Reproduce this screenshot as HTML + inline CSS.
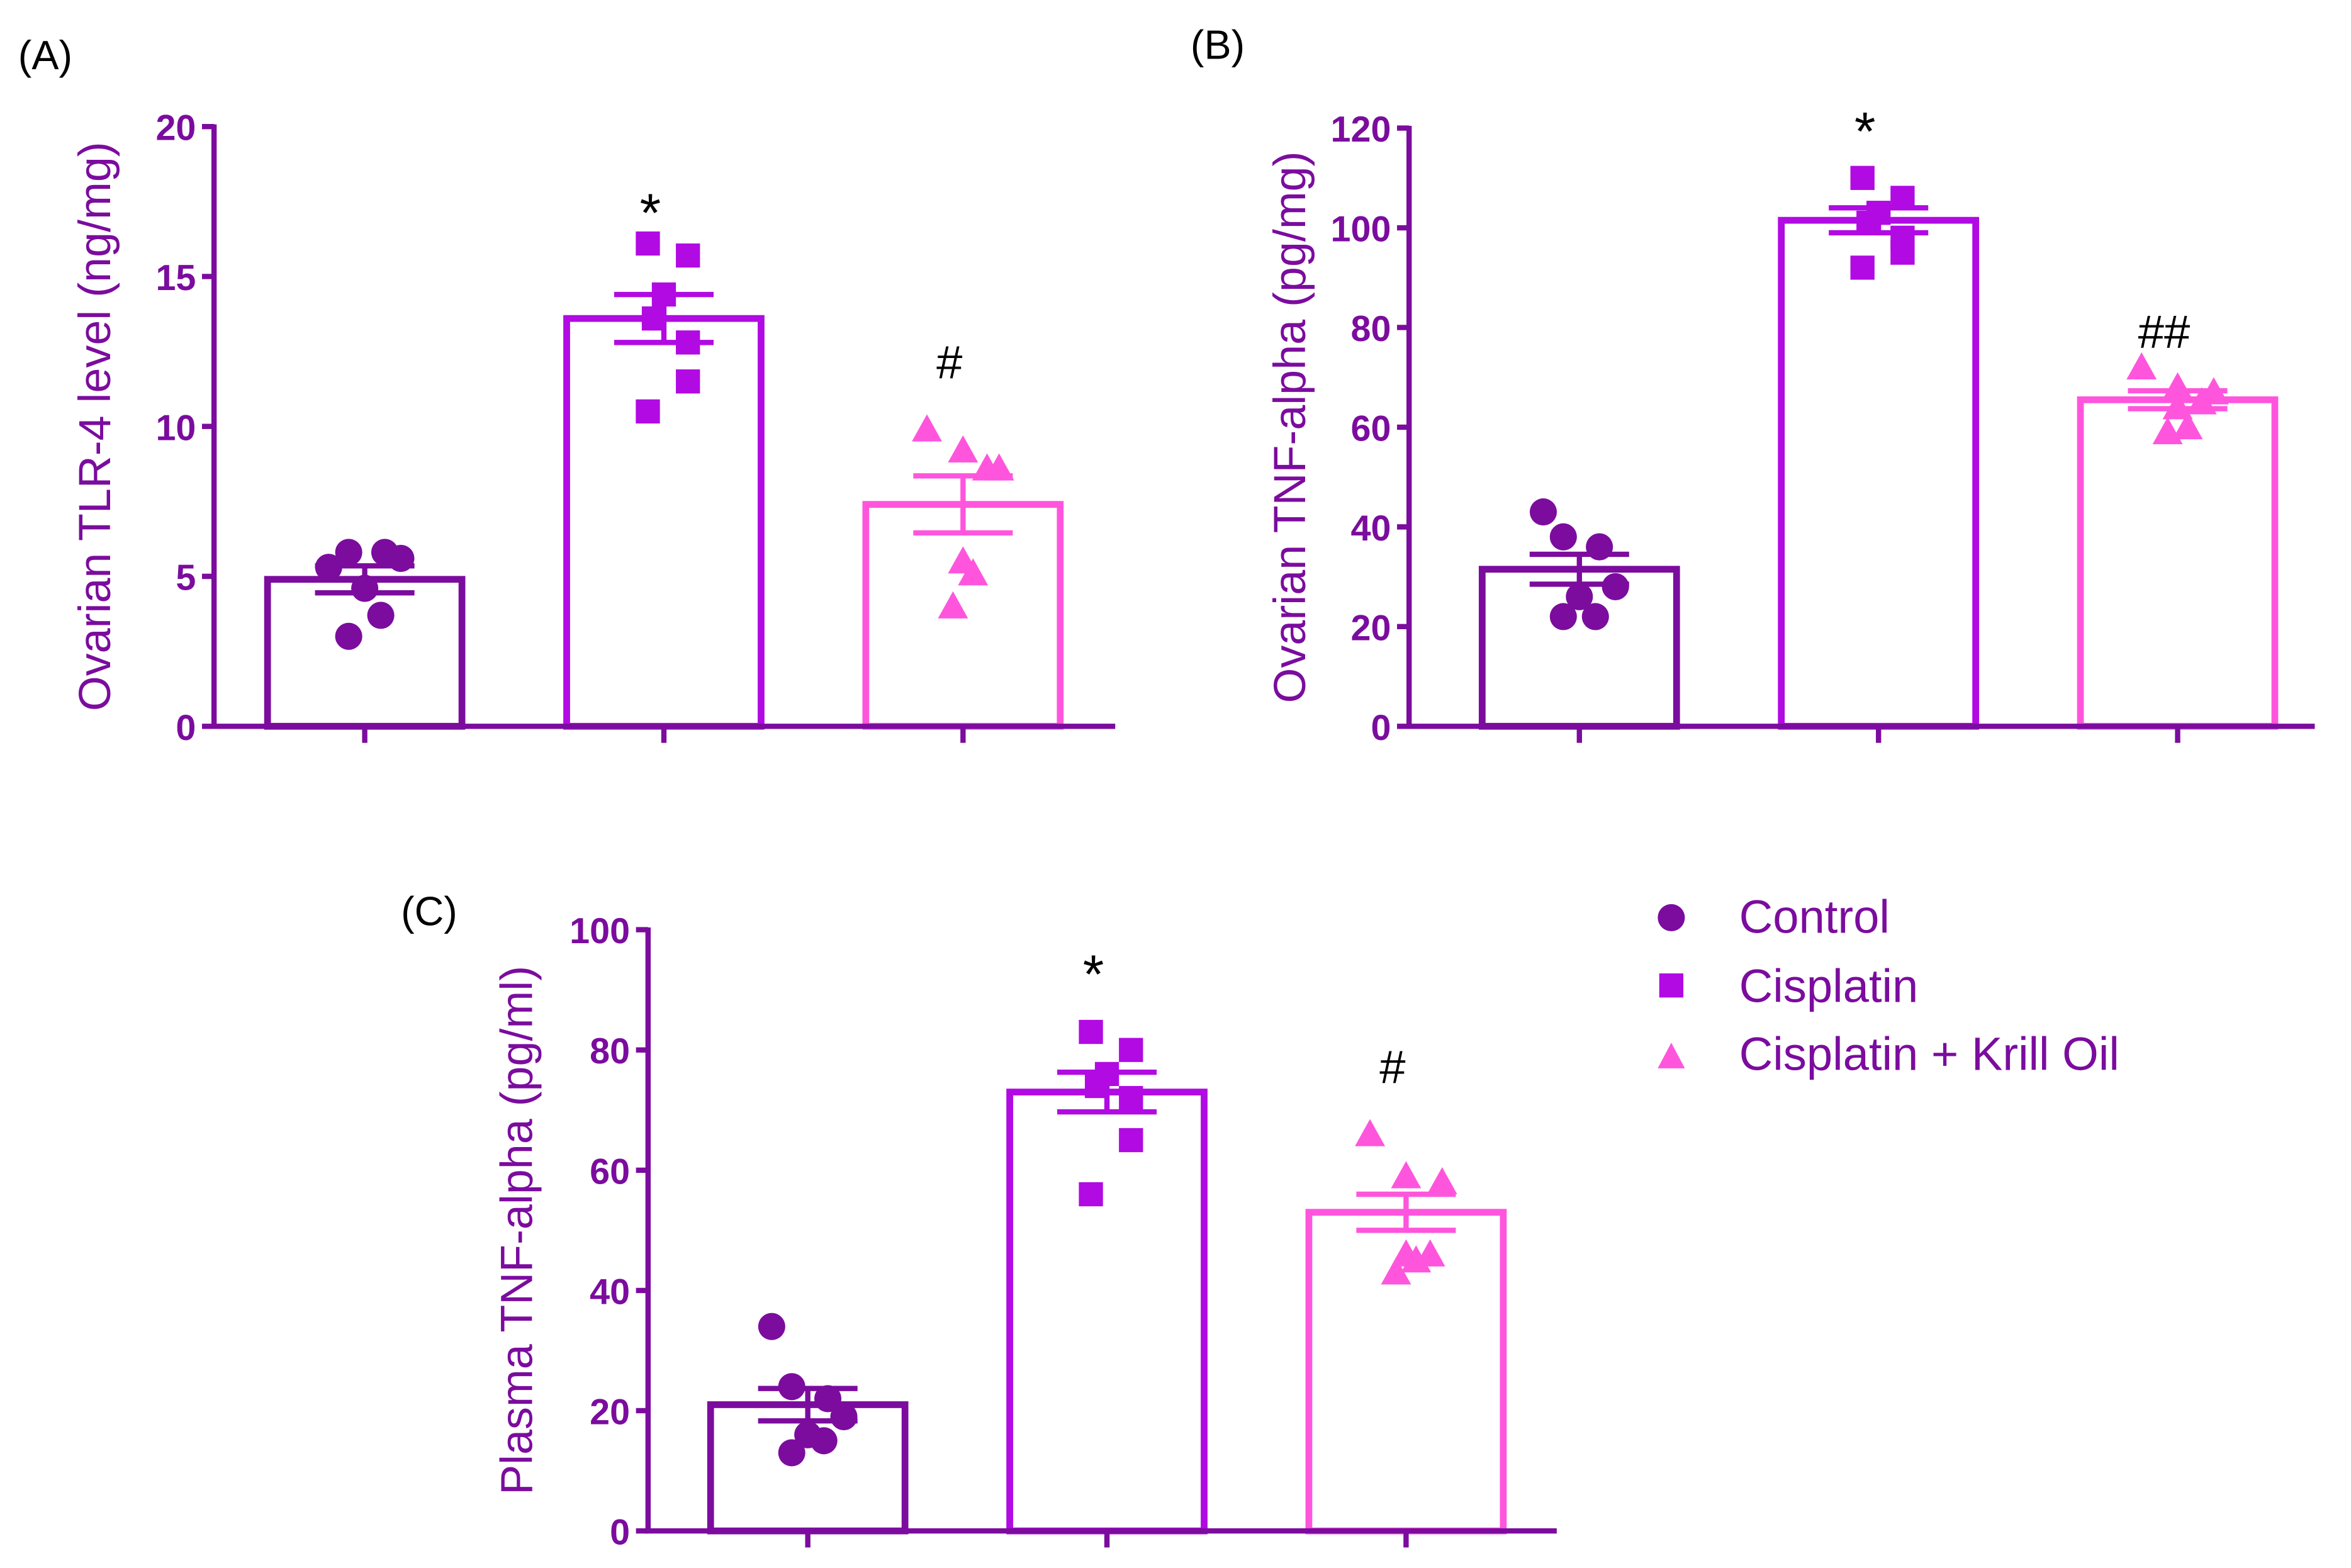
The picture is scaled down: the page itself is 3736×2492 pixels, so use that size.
<!DOCTYPE html>
<html><head><meta charset="utf-8"><style>
html,body{margin:0;padding:0;background:#fff;}
svg{display:block;}
text{font-family:"Liberation Sans",sans-serif;}
</style></head><body>
<svg id="fig" xmlns="http://www.w3.org/2000/svg" width="3736" height="2492" viewBox="0 0 1560 1040.6">
<rect width="1560" height="1040.6" fill="#fff"/>
<text x="12" y="46" font-size="27" fill="#000">(A)</text>
<text x="790" y="39" font-size="27" fill="#000">(B)</text>
<text x="266" y="614" font-size="27" fill="#000">(C)</text>
<g id="legend">
 <g><circle cx="1109" cy="609" r="9" fill="#7B0C9E"/><text x="1154" y="619" font-size="31" fill="#7B0C9E">Control</text></g>
 <g><rect x="1101" y="646" width="16" height="16" fill="#B10AE3"/><text x="1154" y="665" font-size="31" fill="#7B0C9E">Cisplatin</text></g>
 <g><polygon points="1109,692 1118,709 1100,709" fill="#FF55DD"/><text x="1154" y="710" font-size="31" fill="#7B0C9E">Cisplatin + Krill Oil</text></g>
</g>
</svg>
<script>
// Panel A data
const aCategories = ["Control","Cisplatin","Cisplatin + Krill Oil"];
const aMeans = [4.9, 13.6, 7.4];
const aSem = [0.45, 0.8, 0.95];
const aControl = [5.3, 5.8, 5.8, 5.6, 4.6, 3.7, 3.0];
const aCisplatin = [16.1, 15.7, 14.4, 13.6, 12.8, 11.5, 10.5];
const aKrill = [9.9, 9.2, 8.6, 8.6, 5.5, 5.1, 4.0];
const aTicks = [0, 5, 10, 15, 20];
const aMarks = ["", "*", "#"];
const aMarkVals = [0, 17.4, 12.2];
// Panel B data
const bMeans = [31.5, 101.5, 65.5];
const bSem = [3, 2.5, 1.8];
const bControl = [43, 38, 36, 28, 26, 22, 22];
const bCisplatin = [110, 106, 103, 101, 98, 95, 92];
const bKrill = [72, 68, 67, 65, 64, 60, 59];
const bTicks = [0, 20, 40, 60, 80, 100, 120];
const bMarks = ["", "*", "##"];
const bMarkVals = [0, 121, 79.5];
// Panel C data
const cMeans = [21, 73, 53];
const cSem = [2.7, 3.3, 3];
const cControl = [34, 24, 22, 19, 16, 15, 13];
const cCisplatin = [83, 80, 76, 74, 72, 65, 56];
const cKrill = [66, 59, 58, 46, 46, 45, 43];
const cTicks = [0, 20, 40, 60, 80, 100];
const cMarks = ["", "*", "#"];
const cMarkVals = [0, 94, 77.5];

const NS = "http://www.w3.org/2000/svg";
const svg = document.getElementById("fig");
const colors = ["#7B0C9E", "#B10AE3", "#FF55DD"];
const axisColor = "#7B0C9E";
const jitter = [[-0.18,-0.08,0.1,0.18,0,0.08,-0.08],[-0.08,0.12,0,-0.05,0.12,0.12,-0.08],[-0.18,0,0.18,0.12,0,0.05,-0.05]];

function mk(tag, attrs, parent){const e=document.createElementNS(NS,tag);for(const k in attrs)e.setAttribute(k,attrs[k]);parent.appendChild(e);return e;}

function panel(p){
  const g = mk("g",{},svg);
  
  
  const y = v => p.y0 - (v - 0) / p.ymax * (p.y0 - p.ytop);
  const bw = 133, step = 198.5;
  const cx = i => p.firstX + i*step;
  const groups = [p.ctrl, p.cis, p.kr];
  p.means.forEach((m,i)=>{
    const r = mk("rect",{x:cx(i)-bw/2+2,y:y(m),width:bw-4,height:p.y0-y(m),fill:"none",stroke:colors[i],"stroke-width":4.5},g);
    
    
  });
  groups.forEach((arr,i)=>{
    arr.forEach((v,j)=>{
      const x = cx(i) + jitter[i][j]*bw, yy = y(v);
      let e;
      if(i===0) e = mk("circle",{cx:x,cy:yy,r:9,fill:colors[0]},g);
      else if(i===1) e = mk("rect",{x:x-8,y:yy-8,width:16,height:16,fill:colors[1]},g);
      else e = mk("polygon",{points:`${x},${yy-10} ${x+10},${yy+8} ${x-10},${yy+8}`,fill:colors[2]},g);
      
      
    });
  });
  p.means.forEach((m,i)=>{
    const eg = mk("g",{stroke:colors[i],"stroke-width":3.5},g);
    
    
    mk("line",{x1:cx(i),x2:cx(i),y1:y(m+p.sem[i]),y2:y(m-p.sem[i])},eg);
    mk("line",{x1:cx(i)-33,x2:cx(i)+33,y1:y(m+p.sem[i]),y2:y(m+p.sem[i])},eg);
    mk("line",{x1:cx(i)-33,x2:cx(i)+33,y1:y(m-p.sem[i]),y2:y(m-p.sem[i])},eg);
  });
  p.marks.forEach((s,i)=>{
    if(!s) return;
    const t = mk("text",{x:cx(i)-9, y:y(p.markVals[i])+ (s==="*"?18:12),"font-size":s==="*"?36:31,"text-anchor":"middle",fill:"#000"},g);
    t.textContent = s;
    
    
  });
  const ax = mk("g",{stroke:axisColor,"stroke-width":3.5},g);
  
  
  mk("line",{x1:p.ax,x2:p.ax,y1:p.ytop-1.5,y2:p.y0+1.5},ax);
  mk("line",{x1:p.ax-1.5,x2:p.xend,y1:p.y0,y2:p.y0},ax);
  [0,1,2].forEach(i=>mk("line",{x1:cx(i),x2:cx(i),y1:p.y0,y2:p.y0+11},ax));
  p.ticks.forEach(v=>{
    mk("line",{x1:p.ax-8,x2:p.ax,y1:y(v),y2:y(v)},ax);
    const t = mk("text",{x:p.ax-12,y:y(v)+9,"font-size":24,"font-weight":"bold","text-anchor":"end",fill:axisColor},g);
    t.textContent = v;
    
    
  });
  const yt = mk("text",{x:0,y:0,"font-size":30,"text-anchor":"middle",fill:axisColor,transform:`translate(${p.titleX},${(p.y0+p.ytop)/2}) rotate(-90)`},g);
  yt.textContent = p.title;
  
  
}

panel({name:"panel-a",ax:142,y0:482,ytop:84,ymax:20,xend:740,firstX:242,means:aMeans,sem:aSem,ctrl:aControl,cis:aCisplatin,kr:aKrill,ticks:aTicks,marks:aMarks,markVals:aMarkVals,title:"Ovarian TLR-4 level (ng/mg)",titleX:73});
panel({name:"panel-b",ax:935,y0:482,ytop:85,ymax:120,xend:1536,firstX:1048,means:bMeans,sem:bSem,ctrl:bControl,cis:bCisplatin,kr:bKrill,ticks:bTicks,marks:bMarks,markVals:bMarkVals,title:"Ovarian TNF-alpha (pg/mg)",titleX:866});
panel({name:"panel-c",ax:430,y0:1016,ytop:617,ymax:100,xend:1033,firstX:536,means:cMeans,sem:cSem,ctrl:cControl,cis:cCisplatin,kr:cKrill,ticks:cTicks,marks:cMarks,markVals:cMarkVals,title:"Plasma TNF-alpha (pg/ml)",titleX:353});
</script>
</body></html>
